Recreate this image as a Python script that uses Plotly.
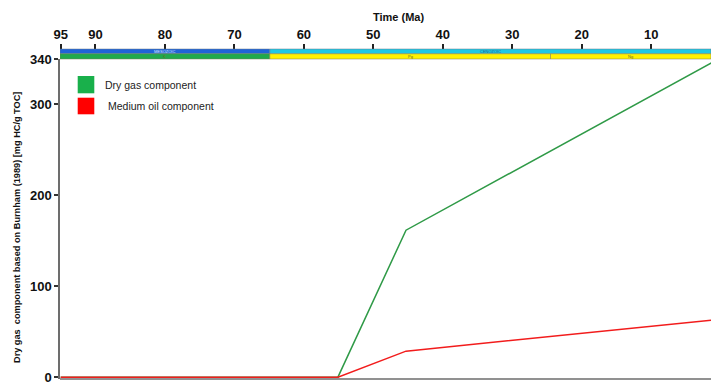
import plotly.graph_objects as go

# Burial-history generation curves (age in Ma, yield in mg HC/g TOC)
age_ma = [95, 55.1, 45.3, 0]
dry_gas = [0, 0, 161.5, 351]
medium_oil = [0, 0, 28.6, 63.7]

# Chronostratigraphic bands: (name, start Ma, end Ma)
eras = [("MESOZOIC", 95.1, 64.9), ("CENOZOIC", 64.9, 1.4)]
periods = [("K", 95.1, 64.9), ("Pg", 64.9, 24.5), ("Ng", 24.5, 1.4)]
era_colors = {"MESOZOIC": "#1f64d8", "CENOZOIC": "#1ec8e4"}
era_text = {"MESOZOIC": "#dfe8ff", "CENOZOIC": "#245a8a"}
period_colors = {"K": "#1faa4c", "Pg": "#fff200", "Ng": "#fff200"}

x_ticks = [95, 90, 80, 70, 60, 50, 40, 30, 20, 10]
y_ticks = [0, 100, 200, 300]
y_top = 349.6

W, H = 711, 382
ML, MR, MT, MB = 60, 0, 49, 3
plot_h = H - MT - MB
y_dom_top = (H - MB - 59) / plot_h

fig = go.Figure()
fig.add_trace(go.Scatter(x=age_ma, y=dry_gas, mode="lines", name="Dry gas component",
                         line=dict(color="#2f9a47", width=1.5), showlegend=False))
fig.add_trace(go.Scatter(x=age_ma, y=medium_oil, mode="lines", name="Medium oil component",
                         line=dict(color="#f21c1c", width=1.5), showlegend=False))

shapes = []
annotations = []

# stratigraphic bar between the time axis and the plot area
band_top = 1.0
band_mid = band_top - (4.8 / plot_h)
band_bot = y_dom_top
for name, a, b in eras:
    shapes.append(dict(type="rect", xref="x", yref="paper", x0=a, x1=b, y0=band_mid, y1=band_top,
                       fillcolor=era_colors[name], line=dict(color="#6a7a8a", width=0.5), layer="above"))
    annotations.append(dict(x=(a + b) / 2, y=(band_mid + band_top) / 2, xref="x", yref="paper",
                            text=name, showarrow=False, yanchor="middle",
                            font=dict(size=4, color=era_text[name], family="Liberation Sans")))
for name, a, b in periods:
    shapes.append(dict(type="rect", xref="x", yref="paper", x0=a, x1=b, y0=band_bot, y1=band_mid,
                       fillcolor=period_colors[name], line=dict(color="#7a7a5a", width=0.5), layer="above"))
    annotations.append(dict(x=(a + b) / 2, y=(band_bot + band_mid) / 2, xref="x", yref="paper",
                            text=name, showarrow=False, yanchor="middle",
                            font=dict(size=4, color="#6b6b20", family="Liberation Sans")))

# bottom frame line
shapes.append(dict(type="line", xref="paper", yref="paper", x0=0, x1=1, y0=0, y1=0,
                   line=dict(color="#6d6d6d", width=1.5)))

# legend swatches
def px_x(p):
    return (p - ML) / (W - ML - MR)

def px_y(p):
    return (H - MB - p) / plot_h

legend_items = [("Dry gas component", "#19b04b", 76, 93.3, 103),
                ("Medium oil component", "#ff0000", 97.7, 114.3, 106)]
for label, col, top, bot, tx in legend_items:
    shapes.append(dict(type="rect", xref="paper", yref="paper", x0=px_x(77.7), x1=px_x(94.3),
                       y0=px_y(bot), y1=px_y(top), fillcolor=col, line=dict(width=0)))
    annotations.append(dict(x=px_x(tx), y=px_y((top + bot) / 2), xref="paper", yref="paper",
                            text=label, showarrow=False, xanchor="left", yanchor="middle",
                            font=dict(size=10.5, color="#222222", family="Liberation Sans")))

# axis titles
annotations.append(dict(x=px_x(398), y=px_y(16.5), xref="paper", yref="paper", text="<b>Time (Ma)</b>",
                        showarrow=False, xanchor="center", yanchor="middle",
                        font=dict(size=11, color="#111111", family="Liberation Sans")))
annotations.append(dict(x=px_x(17), y=px_y(228), xref="paper", yref="paper",
                        text="<b>Dry gas  component based on Burnham (1989) [mg HC/g TOC]</b>",
                        showarrow=False, textangle=-90, xanchor="center", yanchor="middle",
                        font=dict(size=9.2, color="#111111", family="Liberation Sans")))

fig.update_layout(
    width=W, height=H,
    margin=dict(l=ML, r=MR, t=MT, b=MB, autoexpand=False),
    paper_bgcolor="white", plot_bgcolor="white",
    shapes=shapes, annotations=annotations,
    xaxis=dict(range=[95.1, 1.4], side="top", anchor="free", position=1.0,
               tickvals=x_ticks, ticktext=[str(v) for v in x_ticks],
               ticks="outside", ticklen=5, tickwidth=1.5, tickcolor="#222222",
               showline=False, showgrid=False, zeroline=False, automargin=False,
               tickfont=dict(size=13, color="#111111", family="Liberation Sans", weight="bold")),
    yaxis=dict(range=[-2, y_top], domain=[0, y_dom_top],
               tickvals=y_ticks + [y_top], ticktext=[str(v) for v in y_ticks] + ["340"],
               ticks="outside", ticklen=4, tickwidth=1.5, tickcolor="#333333",
               ticklabeloverflow="allow", automargin=False,
               showline=True, linecolor="#6d6d6d", linewidth=1.5,
               showgrid=False, zeroline=False,
               tickfont=dict(size=13, color="#111111", family="Liberation Sans", weight="bold")),
)

fig.write_html("out.html")
